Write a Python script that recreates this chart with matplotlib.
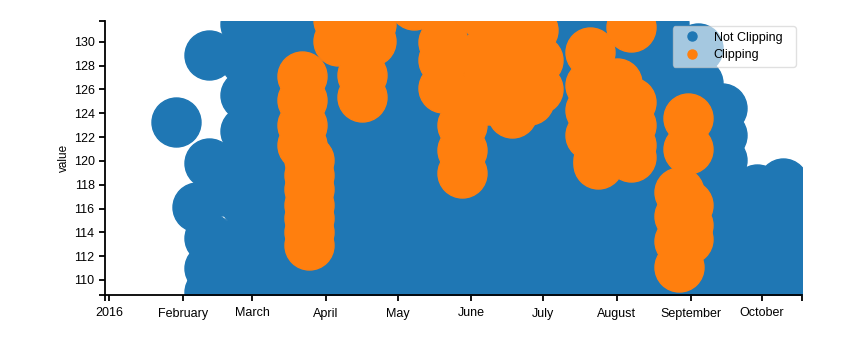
import matplotlib
matplotlib.use('Agg')
import matplotlib.pyplot as plt
import pandas as pd
from matplotlib.lines import Line2D

plt.rcParams['font.family'] = ['Liberation Sans', 'DejaVu Sans']

# blue = not clipping, orange = clipping (values grouped by day)
blue_dates = ['2016-01-29', '2016-02-07', '2016-02-12', '2016-02-17', '2016-02-27',
              '2016-03-12', '2016-03-27', '2016-04-11', '2016-04-25', '2016-05-10',
              '2016-05-25', '2016-06-08', '2016-06-23', '2016-07-08', '2016-07-22',
              '2016-08-06', '2016-08-21', '2016-09-04', '2016-09-14', '2016-09-29',
              '2016-10-10']
blue_values = [
    [123.3],
    [116.1],
    [128.9, 119.8, 113.5, 111.0, 109.0],
    [117.5],
    [131.5, 128.5, 125.5, 122.5, 119.5, 116.5, 113.5, 110.5],
    [130.5, 127.5, 124.5, 121.5, 118.5, 115.5, 112.5, 109.5],
    [131.5, 128.5, 125.5, 122.5, 119.5, 116.5, 113.5, 110.5],
    [130.5, 127.5, 124.5, 121.5, 118.5, 115.5, 112.5, 109.5],
    [131.5, 128.5, 125.5, 122.5, 119.5, 116.5, 113.5, 110.5],
    [130.5, 127.5, 124.5, 121.5, 118.5, 115.5, 112.5, 109.5],
    [131.5, 128.5, 125.5, 122.5, 119.5, 116.5, 113.5, 110.5],
    [130.5, 127.5, 124.5, 121.5, 118.5, 115.5, 112.5, 109.5],
    [131.5, 128.5, 125.5, 122.5, 119.5, 116.5, 113.5, 110.5],
    [130.5, 127.5, 124.5, 121.5, 118.5, 115.5, 112.5, 109.5],
    [131.5, 128.5, 125.5, 122.5, 119.5, 116.5, 113.5, 110.5],
    [130.5, 127.5, 124.5, 121.5, 118.5, 115.5, 112.5, 109.5],
    [131.5, 128.5, 125.5, 122.5, 119.5, 116.5, 113.5, 110.5],
    [129.5, 126.5, 124.5, 121.5, 118.5, 115.5, 112.5, 109.5],
    [124.4, 122.2, 120.1, 117.5, 114.5, 111.5, 109.0],
    [117.6, 115.0, 112.5, 110.0],
    [118.1, 115.5, 113.0, 110.5, 108.5],
]

orange_dates = ['2016-03-22', '2016-03-25', '2016-04-06', '2016-04-16', '2016-04-20',
                '2016-05-08', '2016-05-20', '2016-05-28', '2016-06-04', '2016-06-08',
                '2016-06-18', '2016-06-20', '2016-06-25', '2016-06-27', '2016-06-29',
                '2016-07-21', '2016-07-24', '2016-08-01', '2016-08-07', '2016-08-27',
                '2016-08-31']
orange_values = [
    [127.1, 125.1, 123.0, 121.3],
    [120.1, 118.8, 117.6, 116.3, 115.2, 114.0, 112.9],
    [131.8, 130.1],
    [131.5, 129.3, 127.2, 125.4],
    [131.5, 130.1],
    [133.1],
    [130.0, 128.5, 126.1],
    [125.1, 123.0, 120.9, 119.0],
    [132.6],
    [129.4, 127.6, 125.1],
    [129.7, 126.8, 124.0],
    [132.6],
    [125.1],
    [131.0],
    [128.5, 126.0],
    [129.1, 126.4, 124.3, 122.2],
    [120.1, 119.7],
    [126.5],
    [131.2, 124.9, 123.0, 121.3, 120.3],
    [117.4, 115.4, 113.3, 111.1],
    [123.6, 121.0, 116.3, 114.6, 113.4],
]

month_ticks = ['2016-01-01', '2016-02-01', '2016-03-01', '2016-04-01', '2016-05-01',
               '2016-06-01', '2016-07-01', '2016-08-01', '2016-09-01', '2016-10-01']
month_labels = ['2016', 'February', 'March', 'April', 'May', 'June', 'July',
                'August', 'September', 'October']


def flatten(dates, values):
    xs, ys = [], []
    for d, vals in zip(dates, values):
        for v in vals:
            xs.append(pd.Timestamp(d))
            ys.append(v)
    return xs, ys


BLUE = '#1f77b4'
ORANGE = '#ff7f0e'

fig = plt.figure(figsize=(8.45, 3.39), dpi=100)
ax = fig.add_axes([105 / 845, 44 / 339, 697 / 845, 274 / 339])

bx, by = flatten(blue_dates, blue_values)
ox, oy = flatten(orange_dates, orange_values)
# same-colour edge hides the antialiasing seams between overlapping circles
ax.scatter(bx, by, s=1245, color=BLUE, edgecolors=BLUE, linewidths=1.0, zorder=2)
ax.scatter(ox, oy, s=1245, color=ORANGE, edgecolors=ORANGE, linewidths=1.0, zorder=3)

xmin, xmax = pd.Timestamp('2015-12-30 05:00'), pd.Timestamp('2016-10-17 19:00')
ymin, ymax = 108.74, 131.74
ax.set_xlim(xmin, xmax)
ax.set_ylim(ymin, ymax)

ax.set_xticks([pd.Timestamp(m) for m in month_ticks])
ax.set_xticklabels(month_labels)
ax.set_xticks([xmin, xmax], minor=True)
ax.set_yticks(range(110, 131, 2))
ax.set_yticks([ymin, ymax], minor=True)

for s in ['top', 'right']:
    ax.spines[s].set_visible(False)
for s in ['left', 'bottom']:
    ax.spines[s].set_linewidth(1.3)
ax.tick_params(which='both', direction='out', length=4.5, width=1.3,
               labelsize=9, pad=3, colors='black')
ax.tick_params(axis='x', pad=4.5)

ax.set_ylabel('value', fontsize=8.5, labelpad=2.5)

handles = [Line2D([], [], marker='o', linestyle='', color=BLUE, markersize=6.5),
           Line2D([], [], marker='o', linestyle='', color=ORANGE, markersize=6.5)]
leg = ax.legend(handles, ['Not Clipping', 'Clipping'], loc='upper left',
                bbox_to_anchor=(568 / 697, 227 / 274, 123 / 697, 42 / 274),
                mode='expand', borderaxespad=0, fontsize=9,
                framealpha=0.6, edgecolor='#cccccc', fancybox=True,
                handlelength=2.1, handletextpad=0.7, labelspacing=0.45, borderpad=0.45)
leg.set_zorder(5)

fig.savefig('out.png', dpi=100)
